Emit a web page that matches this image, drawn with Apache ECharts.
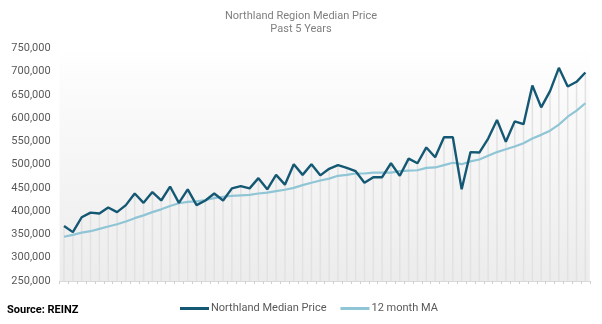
<!DOCTYPE html>
<html>
<head>
<meta charset="utf-8">
<script src="https://cdn.jsdelivr.net/npm/echarts@6/dist/echarts.min.js"></script>
<style>
html,body{margin:0;padding:0;background:#fff;}
#chart{width:602px;height:324px;}
</style>
</head>
<body>
<div id="chart"></div>
<script>
var months = [
'Jan-17','Feb-17','Mar-17','Apr-17','May-17','Jun-17','Jul-17','Aug-17','Sep-17','Oct-17','Nov-17','Dec-17',
'Jan-18','Feb-18','Mar-18','Apr-18','May-18','Jun-18','Jul-18','Aug-18','Sep-18','Oct-18','Nov-18','Dec-18',
'Jan-19','Feb-19','Mar-19','Apr-19','May-19','Jun-19','Jul-19','Aug-19','Sep-19','Oct-19','Nov-19','Dec-19',
'Jan-20','Feb-20','Mar-20','Apr-20','May-20','Jun-20','Jul-20','Aug-20','Sep-20','Oct-20','Nov-20','Dec-20',
'Jan-21','Feb-21','Mar-21','Apr-21','May-21','Jun-21','Jul-21','Aug-21','Sep-21','Oct-21','Nov-21','Dec-21'
];
var medianPrice = [
368000,355000,387000,397000,395000,408000,398000,413000,438000,418000,
441000,423000,453000,418000,447000,413000,423000,438000,423000,449000,
454000,449000,471000,447000,478000,457000,501000,478000,501000,477000,
491000,499000,493000,486000,461000,473000,473000,503000,476000,513000,
503000,537000,516000,559000,559000,447000,527000,526000,556000,596000,
549000,593000,587000,670000,623000,658000,708000,668000,678000,698000
];
var movingAvg = [
345000,349000,354000,357000,362000,367000,372000,378000,385000,391000,
398000,404000,411000,417000,420000,421000,424000,428000,431000,433000,
434000,435000,438000,440000,443000,446000,450000,456000,461000,466000,
470000,476000,478000,481000,481000,483000,483000,483000,486000,487000,
488000,493000,494000,499000,504000,501000,507000,511000,519000,527000,
533000,539000,546000,556000,564000,573000,586000,603000,616000,632000
];
var yTicks = {min: 250000, max: 750000, interval: 50000};

var chart = echarts.init(document.getElementById('chart'), null, {renderer: 'canvas'});
var font = 'Roboto, "Open Sans", sans-serif';
chart.setOption({
  animation: false,
  title: {
    text: 'Northland Region Median Price\nPast 5 Years',
    left: 'center', top: 5,
    textStyle: {fontFamily: font, fontSize: 11, fontWeight: 'normal', color: '#7f7f7f', lineHeight: 13}
  },
  graphic: [{
    type: 'text', left: 7, top: 305,
    style: {text: 'Source: REINZ', font: 'bold 11px ' + font, fill: '#000'}
  }],
  legend: {
    bottom: 5, left: 175,
    itemWidth: 29, itemHeight: 3, itemGap: 14,
    icon: 'rect',
    data: ['Northland Median Price', '12 month MA'],
    textStyle: {fontFamily: font, fontSize: 11, color: '#595959', padding: [0,0,0,-3]}
  },
  grid: {
    left: 59.6, right: 12.2, top: 48.3, bottom: 43,
    show: true, borderWidth: 0,
    backgroundColor: {
      type: 'linear', x: 0, y: 0, x2: 0, y2: 1,
      colorStops: [{offset: 0, color: '#ffffff'}, {offset: 0.12, color: '#fcfcfc'}, {offset: 1, color: '#ececec'}]
    }
  },
  xAxis: {
    type: 'category', data: months, boundaryGap: true,
    axisLine: {lineStyle: {color: '#d9d9d9', width: 1}},
    axisTick: {show: true, interval: 0, length: 3, lineStyle: {color: '#d0d0d0'}},
    axisLabel: {show: false, interval: 0},
    splitLine: {show: false}
  },
  yAxis: {
    type: 'value', min: yTicks.min, max: yTicks.max, interval: yTicks.interval,
    axisLine: {show: false}, axisTick: {show: false},
    splitLine: {show: false},
    axisLabel: {
      fontFamily: font, fontSize: 11, color: '#595959', margin: 9,
      formatter: function (v) { return v.toLocaleString('en-US'); }
    }
  },
  series: [
    {
      name: 'drop', type: 'bar', data: medianPrice, barWidth: 1.5,
      itemStyle: {color: '#e2e2e2'}, silent: true, z: 1
    },
    {
      name: '12 month MA', type: 'line', data: movingAvg, showSymbol: false,
      lineStyle: {color: '#8fc5d5', width: 2.2}, itemStyle: {color: '#8fc5d5'}, z: 3
    },
    {
      name: 'Northland Median Price', type: 'line', data: medianPrice, showSymbol: false,
      lineStyle: {color: '#145873', width: 2.4}, itemStyle: {color: '#145873'}, z: 4
    }
  ]
});
</script>
</body>
</html>
